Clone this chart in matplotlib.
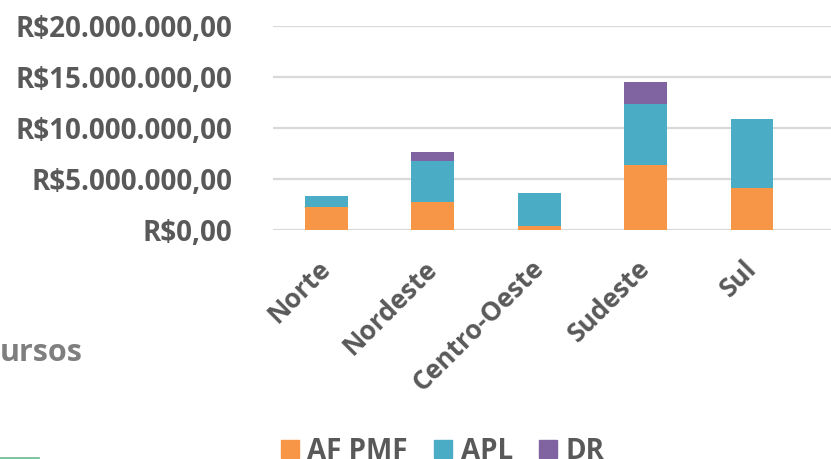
import matplotlib
matplotlib.use("Agg")
import matplotlib.pyplot as plt
import matplotlib.transforms as mtransforms
from matplotlib.patches import Patch
from matplotlib.ticker import FuncFormatter

# valores (R$)
regioes = ["Norte", "Nordeste", "Centro-Oeste", "Sudeste", "Sul"]
af_pmf = [2280000, 2710000, 390000, 6340000, 4150000]
apl = [1050000, 4020000, 3240000, 5980000, 6760000]
dr = [0, 920000, 0, 2160000, 0]
yticks = [0, 5000000, 10000000, 15000000, 20000000]

ORANGE, CYAN, PURPLE = "#F79646", "#4BACC6", "#8064A2"
INK, GRID = "#595959", "#D9D9D9"
FONT = "Open Sans"


def brl(v, _pos=None):
    s = f"{v:,.2f}".replace(",", "X").replace(".", ",").replace("X", ".")
    return "R$" + s


fig = plt.figure(figsize=(8.31, 4.59), dpi=100)
ax = fig.add_axes([273 / 831, 1 - 230 / 459, 1 - 273 / 831, (230 - 26) / 459])

x = list(range(len(regioes)))
base2 = [a + b for a, b in zip(af_pmf, apl)]
w = 0.40
ax.bar(x, af_pmf, w, color=ORANGE, zorder=3)
ax.bar(x, apl, w, bottom=af_pmf, color=CYAN, zorder=3)
ax.bar(x, dr, w, bottom=base2, color=PURPLE, zorder=3)

ax.set_xlim(-0.5, 4.74)
ax.set_ylim(0, 20000000)
ax.set_yticks(yticks)
ax.yaxis.set_major_formatter(FuncFormatter(brl))
ax.grid(axis="y", color=GRID, linewidth=1.6, zorder=0)
for sp in ax.spines.values():
    sp.set_visible(False)
ax.tick_params(axis="both", length=0, colors=INK)
ax.tick_params(axis="y", pad=29.5)
for t in ax.get_yticklabels():
    t.set_fontfamily(FONT); t.set_fontweight("bold"); t.set_fontsize(20)

ax.set_xticks(x)
ax.set_xticklabels(regioes, rotation=45, ha="right", rotation_mode="anchor",
                   fontfamily=FONT, fontweight="bold", fontsize=19, color=INK)
ax.tick_params(axis="x", pad=18)
shift = mtransforms.ScaledTranslation(-9 / 100, 0, fig.dpi_scale_trans)
for t in ax.get_xticklabels():
    t.set_transform(t.get_transform() + shift)

handles = [Patch(color=ORANGE, label="AF PMF"), Patch(color=CYAN, label="APL"),
           Patch(color=PURPLE, label="DR")]
fig.legend(handles=handles, loc="lower left", bbox_to_anchor=(256 / 831, -0.069), ncol=3,
           frameon=False, handlelength=0.65, handleheight=0.65, handletextpad=0.3,
           columnspacing=0.95, prop={"family": FONT, "weight": "bold", "size": 20},
           labelcolor=INK)

# pedaço do título do slide que aparece cortado
fig.text(0.0, 1 - 353 / 459, "ursos", fontfamily=FONT, fontweight="bold", fontsize=22,
         color="#7F7F7F", va="center", ha="left")
fig.add_artist(plt.Line2D([0, 38 / 831], [0.002, 0.002], color="#7AC29A", linewidth=2))

fig.savefig("out.png", dpi=100)
